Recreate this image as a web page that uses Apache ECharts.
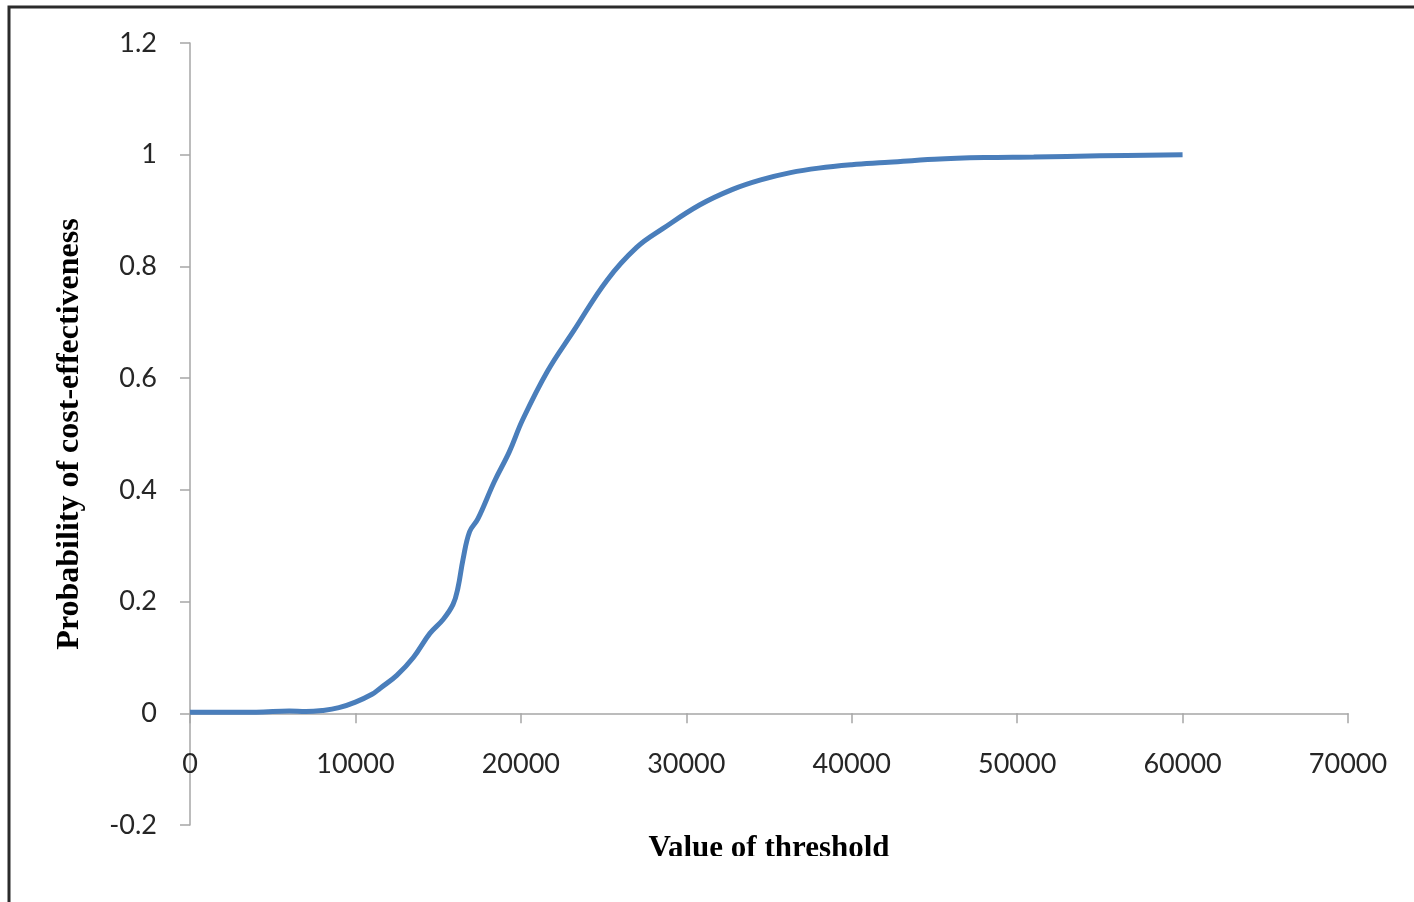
<!DOCTYPE html>
<html>
<head>
<meta charset="utf-8">
<script src="https://cdn.jsdelivr.net/npm/echarts@6/dist/echarts.min.js"></script>
<style>html,body{margin:0;padding:0;background:#fff}#c{width:1414px;height:902px}</style>
</head>
<body>
<div id="c"></div>
<script>
const thresholds = [0, 2000, 4000, 6000, 7000, 8000, 9000, 10000, 11000, 11500, 12500, 13500, 14500, 15300, 15900, 16200, 16500, 16900, 17400, 18400, 19300, 20100, 21600, 23200, 25200, 27000, 28600, 30800, 32800, 34500, 36300, 38000, 40000, 42000, 45000, 48000, 51000, 55000, 60000];
const probability = [0.002, 0.002, 0.002, 0.004, 0.003, 0.005, 0.01, 0.02, 0.034, 0.045, 0.068, 0.1, 0.143, 0.168, 0.195, 0.225, 0.275, 0.325, 0.348, 0.415, 0.468, 0.525, 0.612, 0.685, 0.775, 0.834, 0.868, 0.91, 0.938, 0.955, 0.968, 0.976, 0.982, 0.986, 0.992, 0.995, 0.996, 0.998, 1.0];
const xTitle = 'Value of threshold';
const yTitle = 'Probability of cost-effectiveness';

const chart = echarts.init(document.getElementById('c'));
const labelStyle = { fontFamily: 'Lato', fontSize: 27, color: '#262626' };
const axisLineStyle = { color: '#a6a6a6', width: 1.5 };
chart.setOption({
  animation: false,
  backgroundColor: '#fff',
  grid: { left: 190, right: 66, top: 43, bottom: 77, containLabel: false, outerBoundsMode: 'none' },
  xAxis: {
    type: 'value', min: 0, max: 70000, interval: 10000,
    name: xTitle, nameLocation: 'middle', nameGap: 8,
    nameTextStyle: { fontFamily: 'Liberation Serif', fontWeight: 'bold', fontSize: 31, color: '#000' },
    axisLine: { show: true, onZero: true, lineStyle: axisLineStyle },
    axisTick: { show: true, length: 10, lineStyle: axisLineStyle },
    axisLabel: Object.assign({ margin: -74, formatter: v => String(v) }, labelStyle),
    splitLine: { show: false }
  },
  yAxis: {
    type: 'value', min: -0.2, max: 1.2, interval: 0.2,
    name: yTitle, nameLocation: 'middle', nameGap: 104,
    nameTextStyle: { fontFamily: 'Liberation Serif', fontWeight: 'bold', fontSize: 32, color: '#000' },
    axisLine: { show: true, onZero: false, lineStyle: axisLineStyle },
    axisTick: { show: true, length: 10, lineStyle: axisLineStyle },
    axisLabel: Object.assign({ margin: 33, formatter: v => String(Math.round(v * 10) / 10) }, labelStyle),
    splitLine: { show: false }
  },
  series: [{
    type: 'line',
    data: thresholds.map((t, i) => [t, probability[i]]),
    smooth: 0.4,
    showSymbol: false,
    lineStyle: { color: '#4A7EBB', width: 5 },
    z: 5
  }],
  graphic: [
    { type: 'rect', z: 100, silent: true, shape: { x: 12, y: 856, width: 1410, height: 60 }, style: { fill: '#fff' } },
    { type: 'rect', z: 101, silent: true, shape: { x: 9, y: 7, width: 1500, height: 1000 }, style: { fill: 'none', stroke: '#2b2b2b', lineWidth: 3 } }
  ]
});
</script>
</body>
</html>
